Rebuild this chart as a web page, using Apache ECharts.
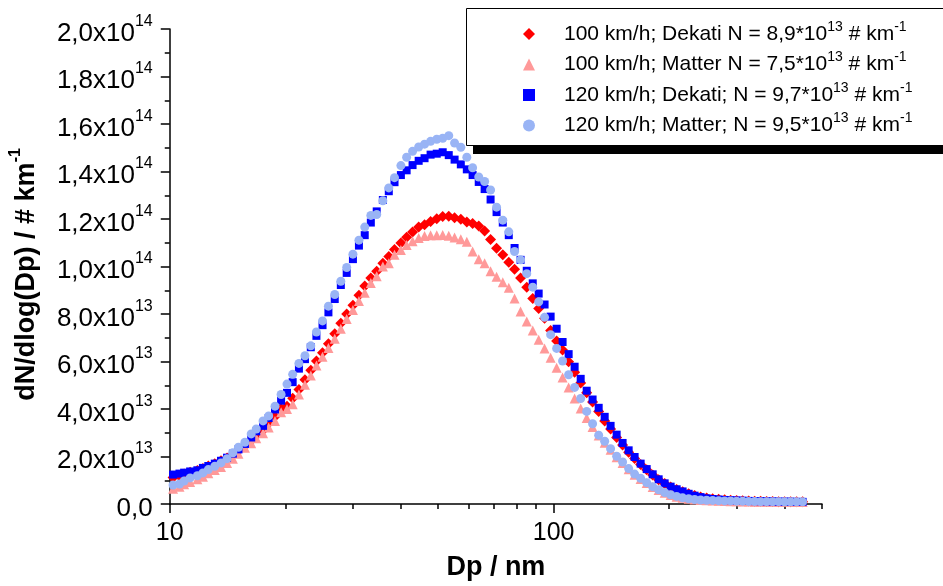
<!DOCTYPE html>
<html><head><meta charset="utf-8">
<script src="https://cdn.jsdelivr.net/npm/echarts@6/dist/echarts.min.js"></script>
<style>html,body{margin:0;padding:0;background:#fff}#c{width:943px;height:586px}</style>
</head><body><div id="c"></div>
<script>
const FONT = '"Liberation Sans", Arial, sans-serif';
const UNIT = 1e13; // values below are in units of 10^13 # km^-1

// particle diameter Dp / nm (64 channels per decade)
const DP = [10.2,10.6,10.9,11.3,11.8,12.2,12.6,13.1,13.6,14.1,
14.6,15.1,15.7,16.3,16.8,17.5,18.1,18.8,19.5,20.2,
20.9,21.7,22.5,23.3,24.1,25.0,25.9,26.9,27.9,28.9,
30.0,31.1,32.2,33.4,34.6,35.9,37.2,38.5,40.0,41.4,
42.9,44.5,46.1,47.8,49.6,51.4,53.3,55.2,57.3,59.4,
61.5,63.8,66.1,68.5,71.0,73.7,76.4,79.1,82.0,85.1,
88.2,91.4,94.7,98.2,101.8,105.5,109.4,113.4,117.6,121.9,
126.3,131.0,135.8,140.7,145.9,151.2,156.8,162.5,168.5,174.7,
181.1,187.7,194.6,201.7,209.1,216.7,224.7,232.9,241.4,250.3,
259.5,269.0,278.8,289.0,299.6,310.6,322.0,333.8,346.0,358.7,
371.8,385.4,399.5,414.2,429.4,445.1];

const DEKATI_100 = [1.12,1.18,1.26,1.34,1.41,1.50,1.60,1.70,1.82,1.94,
2.07,2.25,2.45,2.67,2.88,3.11,3.40,3.68,4.02,4.12,
4.45,4.82,5.23,5.63,6.02,6.37,6.75,7.17,7.61,8.00,
8.37,8.79,9.18,9.52,9.80,10.14,10.42,10.72,10.99,11.23,
11.45,11.66,11.76,11.90,12.01,12.11,12.12,12.05,11.99,11.87,
11.81,11.71,11.49,11.14,10.77,10.49,10.18,9.88,9.52,9.13,
8.65,8.23,7.82,7.31,6.86,6.48,5.99,5.55,5.09,4.68,
4.30,3.90,3.50,3.16,2.80,2.48,2.18,1.92,1.66,1.44,
1.22,1.02,0.86,0.72,0.61,0.52,0.43,0.36,0.30,0.25,
0.22,0.20,0.18,0.16,0.15,0.14,0.13,0.12,0.12,0.11,
0.11,0.10,0.10,0.10,0.10,0.09];

const MATTER_100 = [0.64,0.73,0.83,0.93,1.04,1.15,1.29,1.43,1.56,1.73,
1.91,2.12,2.37,2.56,2.77,2.98,3.22,3.50,3.86,4.00,
4.20,4.61,5.02,5.41,5.83,6.20,6.57,6.96,7.38,7.79,
8.17,8.55,8.90,9.31,9.59,10.00,10.14,10.49,10.70,10.91,
11.06,11.20,11.28,11.32,11.32,11.33,11.29,11.22,11.15,11.04,
10.63,10.31,10.14,9.80,9.57,9.34,9.11,8.65,8.11,7.68,
7.31,6.92,6.55,6.16,5.74,5.33,4.91,4.44,4.02,3.62,
3.24,2.88,2.58,2.28,1.97,1.73,1.46,1.23,1.05,0.88,
0.72,0.59,0.47,0.38,0.31,0.26,0.22,0.19,0.17,0.16,
0.15,0.14,0.13,0.12,0.12,0.11,0.11,0.10,0.10,0.10,
0.09,0.09,0.09,0.09,0.08,0.08];

const DEKATI_120 = [1.24,1.28,1.32,1.37,1.42,1.52,1.60,1.70,1.82,1.95,
2.12,2.30,2.53,2.80,3.06,3.29,3.62,3.98,4.35,4.68,
5.13,5.70,6.10,6.60,7.08,7.53,8.07,8.63,9.22,9.73,
10.31,10.88,11.32,11.85,12.32,12.80,13.17,13.55,13.85,14.05,
14.27,14.45,14.56,14.71,14.75,14.81,14.69,14.50,14.30,14.09,
13.85,13.56,13.26,12.82,12.29,11.85,11.32,10.78,10.28,9.82,
9.29,8.86,8.40,7.89,7.38,6.82,6.31,5.78,5.27,4.77,
4.40,4.05,3.67,3.29,2.92,2.57,2.26,1.98,1.70,1.47,
1.25,1.04,0.87,0.73,0.62,0.53,0.43,0.35,0.29,0.24,
0.21,0.19,0.17,0.16,0.15,0.14,0.13,0.12,0.12,0.11,
0.11,0.10,0.10,0.10,0.09,0.09];

const MATTER_120 = [0.80,0.84,0.97,1.10,1.19,1.31,1.45,1.59,1.73,1.91,
2.16,2.39,2.60,2.95,3.16,3.50,3.71,4.12,4.61,5.05,
5.46,5.92,6.24,6.66,7.24,7.71,8.33,8.82,9.38,9.96,
10.52,11.11,11.66,12.15,12.19,12.77,13.31,13.74,14.25,14.60,
14.85,15.03,15.15,15.27,15.36,15.40,15.51,15.20,15.02,14.60,
14.16,13.77,13.58,13.22,12.50,11.95,11.46,10.63,10.28,9.70,
9.13,8.51,7.86,7.13,6.55,6.02,5.44,4.91,4.44,3.90,
3.38,2.90,2.64,2.33,2.01,1.77,1.49,1.26,1.08,0.90,
0.73,0.60,0.48,0.39,0.32,0.26,0.22,0.19,0.17,0.16,
0.15,0.14,0.13,0.13,0.12,0.12,0.11,0.11,0.10,0.10,
0.10,0.10,0.09,0.09,0.09,0.09];

const SERIES_NAMES = ['100 km/h; Dekati', '100 km/h; Matter', '120 km/h; Dekati', '120 km/h; Matter'];
const LEGEND_LABELS = [
  '100 km/h; Dekati N = 8,9*10{s|13} # km{s|-1}',
  '100 km/h; Matter N = 7,5*10{s|13} # km{s|-1}',
  '120 km/h; Dekati; N = 9,7*10{s|13} # km{s|-1}',
  '120 km/h; Matter; N = 9,5*10{s|13} # km{s|-1}'
];
const SERIES_VALUES = [DEKATI_100, MATTER_100, DEKATI_120, MATTER_120];
const SERIES_SYMBOLS = ['diamond', 'triangle', 'rect', 'circle'];
const SERIES_SIZES = [11, 10, 8, 9];
const SERIES_COLORS = ['#FF0000', '#FF9999', '#0000FF', '#99B4F5'];

const X_MIN = 10, X_MAX = 500;
const X_MAJOR_TICKS = [10, 100];
const X_MINOR_TICKS = [20, 30, 40, 50, 60, 70, 80, 90, 200, 300, 400, 500];
const Y_MIN = 0, Y_MAX = 2e14, Y_STEP = 2e13;

function yLabel(v) {
  if (v === 0) return '{m|0,0}';
  const e = v >= 1e14 ? 14 : 13;
  const m = (v / Math.pow(10, e)).toFixed(1).replace('.', ',');
  return '{m|' + m + 'x10}{s|' + e + '}';
}

const chart = echarts.init(document.getElementById('c'), null, {renderer: 'canvas'});
const black = '#000';
const series = SERIES_NAMES.map((name, i) => ({
  type: 'scatter',
  name: name,
  symbol: SERIES_SYMBOLS[i],
  symbolSize: SERIES_SIZES[i],
  itemStyle: {color: SERIES_COLORS[i], opacity: 1},
  data: DP.map((d, k) => [d, SERIES_VALUES[i][k] * UNIT]),
  animation: false
}));

chart.setOption({
  animation: false,
  backgroundColor: '#fff',
  grid: {left: 167, right: 121, top: 29, bottom: 75, containLabel: false},
  graphic: [
    {type: 'rect', z: 1, silent: true, shape: {x: 473, y: 16, width: 480, height: 138}, style: {fill: '#000'}},
    {type: 'rect', z: 2, silent: true, shape: {x: 466.5, y: 8.5, width: 490, height: 137}, style: {fill: '#fff', stroke: '#000', lineWidth: 1}}
  ],
  legend: {
    orient: 'vertical',
    left: 523, top: 20,
    padding: 0,
    itemGap: 2.5,
    itemWidth: 12, itemHeight: 12,
    data: SERIES_NAMES,
    formatter: name => LEGEND_LABELS[SERIES_NAMES.indexOf(name)],
    textStyle: {
      fontFamily: FONT, fontSize: 21, lineHeight: 28, color: black,
      padding: [0, 0, 0, 24],
      rich: {s: {fontFamily: FONT, fontSize: 14, lineHeight: 14, verticalAlign: 'top', color: black}}
    }
  },
  xAxis: [{
    type: 'log', logBase: 10, min: X_MIN, max: X_MAX,
    axisLine: {show: true, lineStyle: {color: black, width: 1.5}},
    axisTick: {show: true, inside: false, length: 9, customValues: X_MAJOR_TICKS, lineStyle: {color: black, width: 1.5}},
    axisLabel: {customValues: X_MAJOR_TICKS, margin: 17, fontSize: 25, fontFamily: FONT, color: black},
    splitLine: {show: false},
    name: 'Dp / nm', nameLocation: 'middle', nameGap: 50,
    nameTextStyle: {fontSize: 27, fontWeight: 'bold', fontFamily: FONT, color: black}
  }, {
    type: 'log', logBase: 10, min: X_MIN, max: X_MAX, position: 'bottom',
    axisLine: {show: false},
    axisTick: {show: true, inside: false, length: 5, customValues: X_MINOR_TICKS, lineStyle: {color: black, width: 1.5}},
    axisLabel: {show: false},
    splitLine: {show: false}
  }],
  yAxis: {
    type: 'value', min: Y_MIN, max: Y_MAX, interval: Y_STEP,
    axisLine: {show: true, lineStyle: {color: black, width: 1.5}},
    axisTick: {show: true, inside: false, length: 9, lineStyle: {color: black, width: 1.5}},
    minorTick: {show: true, splitNumber: 2, length: 5, lineStyle: {color: black, width: 1.5}},
    splitLine: {show: false}, minorSplitLine: {show: false},
    axisLabel: {
      margin: 17, formatter: yLabel, color: black, fontFamily: FONT,
      padding: [9, 0, 0, 0],
      rich: {
        m: {fontSize: 26, lineHeight: 40, fontFamily: FONT, color: black},
        s: {fontSize: 16, lineHeight: 16, verticalAlign: 'top', fontFamily: FONT, color: black}
      }
    },
    name: 'dN/dlog(Dp) / # km{s|-1}', nameLocation: 'middle', nameRotate: 90, nameGap: 122,
    nameTextStyle: {
      fontSize: 27, fontWeight: 'bold', fontFamily: FONT, color: black, lineHeight: 38,
      padding: [0, 16, 0, 0],
      rich: {s: {fontSize: 16, fontWeight: 'bold', lineHeight: 16, verticalAlign: 'top', fontFamily: FONT, color: black}}
    }
  },
  series: series
});
</script></body></html>
